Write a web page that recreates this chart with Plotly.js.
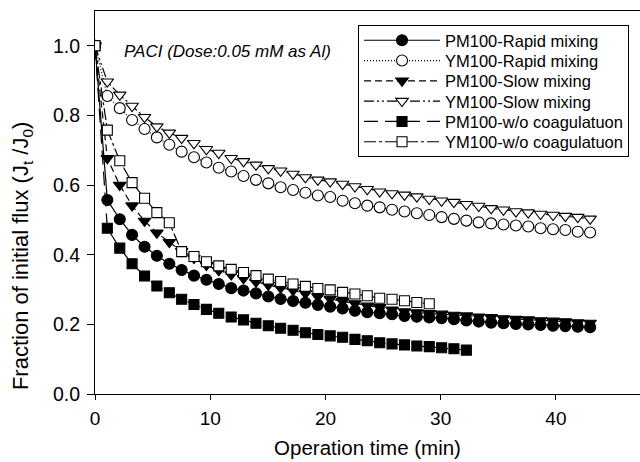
<!DOCTYPE html>
<html>
<head>
<meta charset="utf-8">
<script src="https://cdn.plot.ly/plotly-3.0.1.min.js"></script>
<style>html,body{margin:0;padding:0;background:#fff;}#chart{width:640px;height:462px;}</style>
</head>
<body>
<div id="chart"></div>
<script>
// Operation time (min) of each sample
const timeMin = [0, 1.07, 2.15, 3.22, 4.30, 5.37, 6.45, 7.52, 8.59, 9.67, 10.74, 11.82, 12.89, 13.97, 15.04, 16.11, 17.19, 18.26, 19.34, 20.41, 21.49, 22.56, 23.63, 24.71, 25.78, 26.86, 27.93, 29.01, 30.08, 31.15, 32.23, 33.30, 34.38, 35.45, 36.53, 37.60, 38.67, 39.75, 40.82, 41.90, 42.97];

const seriesNames = ["PM100-Rapid mixing", "YM100-Rapid mixing", "PM100-Slow mixing", "YM100-Slow mixing", "PM100-w/o coagulatuon", "YM100-w/o coagulatuon"];

const pmRapid = [1.0, 0.557, 0.502, 0.457, 0.423, 0.397, 0.374, 0.356, 0.340, 0.328, 0.316, 0.304, 0.297, 0.289, 0.280, 0.273, 0.267, 0.262, 0.256, 0.251, 0.246, 0.239, 0.235, 0.232, 0.229, 0.224, 0.222, 0.220, 0.218, 0.215, 0.211, 0.208, 0.205, 0.203, 0.201, 0.200, 0.198, 0.196, 0.195, 0.193, 0.192];
const ymRapid = [1.0, 0.856, 0.821, 0.787, 0.761, 0.737, 0.716, 0.696, 0.680, 0.665, 0.650, 0.639, 0.626, 0.615, 0.605, 0.594, 0.586, 0.578, 0.570, 0.566, 0.555, 0.548, 0.541, 0.536, 0.529, 0.524, 0.519, 0.514, 0.508, 0.503, 0.498, 0.493, 0.490, 0.487, 0.484, 0.481, 0.476, 0.473, 0.471, 0.466, 0.464];
const pmSlow = [1.0, 0.677, 0.600, 0.541, 0.497, 0.463, 0.436, 0.410, 0.390, 0.370, 0.355, 0.343, 0.332, 0.322, 0.313, 0.305, 0.298, 0.289, 0.280, 0.273, 0.266, 0.260, 0.253, 0.249, 0.242, 0.237, 0.234, 0.232, 0.230, 0.227, 0.225, 0.222, 0.220, 0.217, 0.215, 0.214, 0.211, 0.210, 0.208, 0.205, 0.204];
const ymSlow = [1.0, 0.897, 0.859, 0.827, 0.795, 0.768, 0.750, 0.735, 0.720, 0.703, 0.692, 0.677, 0.668, 0.658, 0.648, 0.641, 0.632, 0.622, 0.615, 0.610, 0.603, 0.596, 0.588, 0.581, 0.576, 0.572, 0.567, 0.560, 0.555, 0.551, 0.545, 0.540, 0.533, 0.529, 0.524, 0.521, 0.517, 0.514, 0.511, 0.508, 0.503];
const pmWo = [1.0, 0.476, 0.419, 0.374, 0.339, 0.310, 0.291, 0.272, 0.257, 0.243, 0.232, 0.221, 0.213, 0.203, 0.196, 0.189, 0.183, 0.176, 0.171, 0.167, 0.163, 0.157, 0.153, 0.147, 0.144, 0.141, 0.138, 0.136, 0.133, 0.130, 0.126];
const ymWo = [1.0, 0.758, 0.670, 0.607, 0.562, 0.521, 0.492, 0.409, 0.395, 0.380, 0.368, 0.358, 0.349, 0.340, 0.330, 0.323, 0.316, 0.309, 0.303, 0.299, 0.292, 0.287, 0.282, 0.275, 0.272, 0.268, 0.263, 0.259];

const xTicks = [0, 10, 20, 30, 40];
const yTicks = [0.0, 0.2, 0.4, 0.6, 0.8, 1.0];

const FONT = "Liberation Sans, Arial, sans-serif";

function trace(name, y, dash, symbol, fill, size) {
  return {
    type: "scatter", mode: "lines+markers", name: name,
    x: timeMin.slice(0, y.length), y: y,
    line: {color: "#000", width: 1.2, dash: dash},
    marker: {symbol: symbol, size: size, color: fill, line: {color: "#000", width: 1.1}}
  };
}

const data = [
  trace(seriesNames[0], pmRapid, "solid", "circle", "#000", 11),
  trace(seriesNames[1], ymRapid, "1px,2px", "circle", "#fff", 11),
  trace(seriesNames[2], pmSlow, "7px,4px", "triangle-down", "#000", 11),
  trace(seriesNames[3], ymSlow, "10px,3px,2px,3px,2px,3px", "triangle-down", "#fff", 11),
  trace(seriesNames[4], pmWo, "14px,7px", "square", "#000", 10),
  trace(seriesNames[5], ymWo, "12px,3px,3px,3px", "square", "#fff", 10)
];

const layout = {
  width: 640, height: 462,
  margin: {l: 95, r: 0, t: 11, b: 68},
  paper_bgcolor: "#fff", plot_bgcolor: "#fff",
  font: {family: FONT, color: "#000"},
  showlegend: true,
  legend: {
    x: 0.4826, y: 0.9634, xanchor: "left", yanchor: "top",
    bordercolor: "#000", borderwidth: 1, bgcolor: "#fff",
    font: {family: FONT, size: 16.5, color: "#000"},
    itemwidth: 76, tracegroupgap: 0
  },
  xaxis: {
    range: [0, 47.3], tickvals: xTicks, ticktext: xTicks.map(String),
    ticks: "outside", ticklen: 5, tickwidth: 1, tickcolor: "#000",
    ticklabelstandoff: 2,
    showline: true, linecolor: "#000", linewidth: 1, mirror: true,
    showgrid: false, zeroline: false,
    tickfont: {family: FONT, size: 19},
    title: {text: "Operation time (min)", font: {family: FONT, size: 20.5}, standoff: 12}
  },
  yaxis: {
    range: [0, 1.1], tickvals: yTicks, ticktext: yTicks.map(v => v.toFixed(1)),
    ticks: "outside", ticklen: 7, tickwidth: 1, tickcolor: "#000",
    ticklabelstandoff: 3,
    showline: true, linecolor: "#000", linewidth: 1,
    showgrid: false, zeroline: false,
    tickfont: {family: FONT, size: 19.5}
  },
  annotations: [{
    x: 2.3, y: 0.983, xref: "x", yref: "y", xanchor: "left", yanchor: "middle",
    text: "<i>PACI (Dose:0.05 mM as Al)</i>", showarrow: false,
    font: {family: FONT, size: 17, color: "#000"}
  }, {
    x: 0, y: 0.005, xref: "paper", yref: "paper", xanchor: "center", yanchor: "bottom",
    xshift: -73, textangle: -90, showarrow: false,
    text: "Fraction of initial flux (J<sub>t</sub> /J<sub>0</sub>)",
    font: {family: FONT, size: 22, color: "#000"}
  }]
};

Plotly.newPlot("chart", data, layout, {displayModeBar: false, staticPlot: true}).then(function (gd) {
  // tighten legend row spacing to match the reference
  const rows = gd.querySelectorAll(".legend .traces");
  if (rows.length < 2) return;
  const parse = el => {
    const m = /translate\(\s*([-\d.e]+)[ ,]+([-\d.e]+)\s*\)/.exec(el.getAttribute("transform") || "");
    return m ? [parseFloat(m[1]), parseFloat(m[2])] : null;
  };
  const p0 = parse(rows[0]), p1 = parse(rows[1]);
  if (!p0 || !p1) return;
  const oldStep = p1[1] - p0[1];
  const newStep = 20.3, shiftTop = 3;
  rows.forEach((r, i) => {
    const p = parse(r);
    if (p) r.setAttribute("transform", "translate(" + p[0] + "," + (p0[1] - shiftTop + i * newStep) + ")");
  });
  const bg = gd.querySelector(".legend .bg");
  if (bg) {
    const h = parseFloat(bg.getAttribute("height"));
    bg.setAttribute("height", h - (oldStep - newStep) * (rows.length - 1) - 2 * shiftTop);
  }
});
</script>
</body>
</html>
